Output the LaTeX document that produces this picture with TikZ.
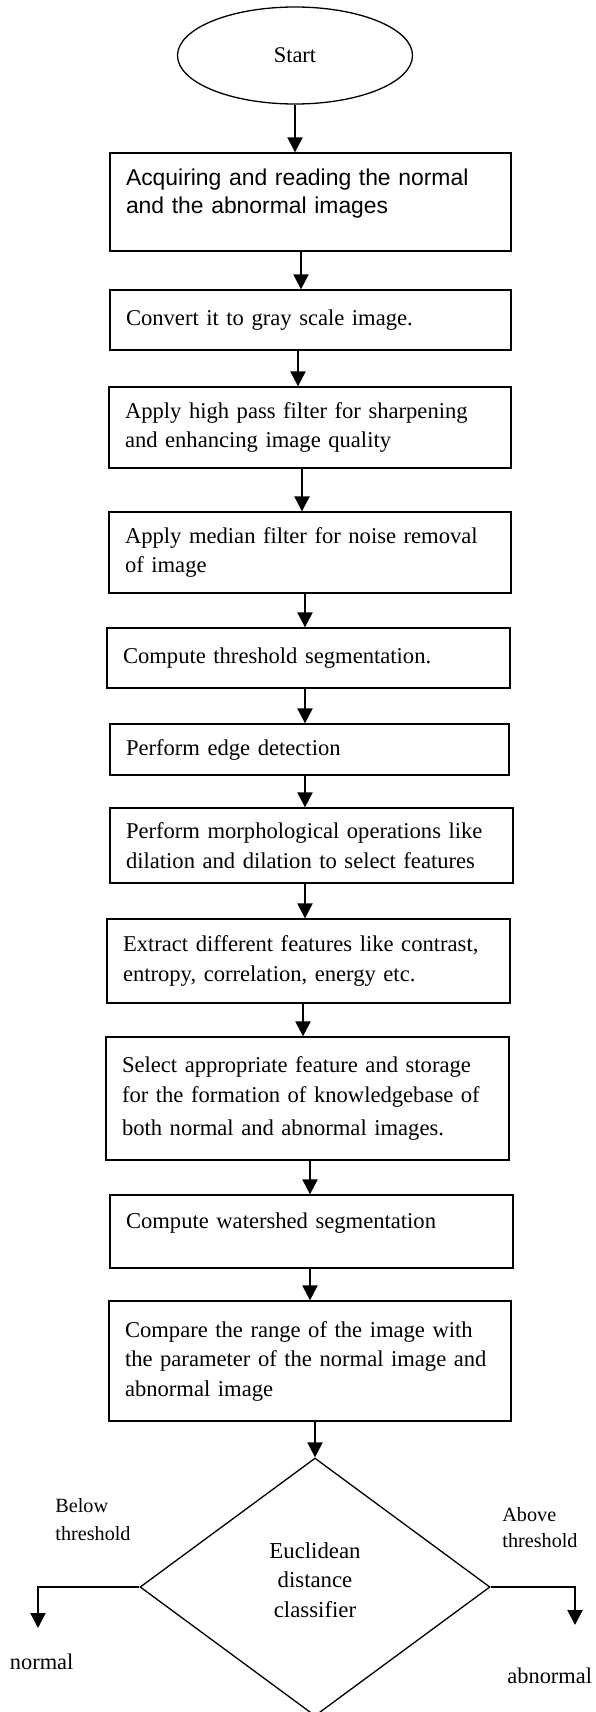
\documentclass[tikz,border=0pt]{standalone}
\usepackage{fontspec}
\setmainfont{Liberation Serif}
\newfontfamily\arialfont{Liberation Sans}
\usetikzlibrary{shapes.geometric,arrows.meta}
\tikzset{
  procbox/.style={draw,line width=0.65pt,rectangle,align=left,inner xsep=8pt,inner ysep=0pt,
    font=\fontsize{11.3pt}{14.75pt}\selectfont},
  terminal/.style={draw,line width=0.65pt,ellipse,inner sep=0pt,font=\fontsize{11.2pt}{14pt}\selectfont},
  decision/.style={draw,line width=0.65pt,diamond,inner sep=0pt,align=center,
    font=\fontsize{11.4pt}{14.75pt}\selectfont},
  flowarrow/.style={line width=1.1pt,-{Triangle[width=7.5pt,length=7.5pt]}},
  lbl/.style={align=left,inner sep=0pt,anchor=west}
}

\begin{document}
\begin{tikzpicture}[x=0.5pt,y=-0.5pt]
\path[use as bounding box] (0,0) rectangle (595,1712);
\node[terminal,minimum width=117.5pt,minimum height=48.5pt] (start) at (295,55.5) {Start};
\node[procbox,text width=184.5pt,minimum height=49pt,font=\arialfont\fontsize{11.45pt}{14pt}\selectfont] (acquire) at (310.5,202)
  {Acquiring and reading the normal\\and the abnormal images\rule[-10.4pt]{0pt}{10.4pt}};
\node[procbox,text width=184.5pt,minimum height=30pt] (gray) at (310.5,320) {Convert it to gray scale image.};
\node[procbox,text width=185pt,minimum height=40.5pt] (highpass) at (310,427.5)
  {Apply high pass filter for sharpening\\and enhancing image quality};
\node[procbox,text width=185pt,minimum height=40.5pt] (median) at (310,552.5)
  {Apply median filter for noise removal\\of image};
\node[procbox,text width=185.5pt,minimum height=30pt] (thresh) at (308.5,658) {Compute threshold segmentation.};
\node[procbox,text width=183.5pt,minimum height=25.5pt] (edge) at (309.5,749.5) {Perform edge detection};
\node[procbox,text width=185.5pt,minimum height=37.5pt] (morph) at (311.5,845.5)
  {Perform morphological operations like\\dilation and dilation to select features};
\node[procbox,text width=185.5pt,minimum height=42pt] (extract) at (308.5,961)
  {Extract different features like contrast,\\entropy, correlation, energy etc.};
\node[procbox,text width=185.5pt,minimum height=61.5pt] (select) at (307.5,1098.5)
  {Select appropriate feature and storage\\for the formation of knowledgebase of\\[2pt]both normal and abnormal images.};
\node[procbox,text width=185.5pt,minimum height=36.5pt] (watershed) at (311.5,1231.5)
  {Compute watershed segmentation\rule[-11.2pt]{0pt}{11.2pt}};
\node[procbox,text width=185pt,minimum height=60pt] (compare) at (310,1361)
  {Compare the range of the image with\\the parameter of the normal image and\\abnormal image};
\node[decision,minimum width=175pt,minimum height=129pt] (classifier) at (315,1587)
  {Euclidean\\distance\\classifier\rule[-7pt]{0pt}{7pt}};
\coordinate (normend) at (38,1628);
\coordinate (abnormend) at (575,1625);
\node[lbl,font=\fontsize{10.1pt}{14pt}\selectfont] (belowlbl) at (55,1519.6) {Below\\threshold};
\node[lbl,font=\fontsize{10.1pt}{13pt}\selectfont] (abovelbl) at (502,1527.5) {Above\\threshold};
\node[lbl,font=\fontsize{11.2pt}{14pt}\selectfont] (normallbl) at (9.5,1662.3) {normal};
\node[lbl,font=\fontsize{11.2pt}{14pt}\selectfont] (abnormallbl) at (507,1675.5) {abnormal};
\draw[flowarrow] (start.south) -- (start.south |- acquire.north);
\draw[flowarrow] ([xshift=-4.75pt]acquire.south) -- ([xshift=-4.75pt]acquire.south |- gray.north);
\draw[flowarrow] ([xshift=-6.25pt]gray.south) -- ([xshift=-6.25pt]gray.south |- highpass.north);
\draw[flowarrow] ([xshift=-4pt]highpass.south) -- ([xshift=-4pt]highpass.south |- median.north);
\draw[flowarrow] ([xshift=-2.5pt]median.south) -- ([xshift=-2.5pt]median.south |- thresh.north);
\draw[flowarrow] ([xshift=-1.75pt]thresh.south) -- ([xshift=-1.75pt]thresh.south |- edge.north);
\draw[flowarrow] ([xshift=-2.25pt]edge.south) -- ([xshift=-2.25pt]edge.south |- morph.north);
\draw[flowarrow] ([xshift=-3.25pt]morph.south) -- ([xshift=-3.25pt]morph.south |- extract.north);
\draw[flowarrow] ([xshift=-2.75pt]extract.south) -- ([xshift=-2.75pt]extract.south |- select.north);
\draw[flowarrow] ([xshift=1.25pt]select.south) -- ([xshift=1.25pt]select.south |- watershed.north);
\draw[flowarrow] ([xshift=-0.75pt]watershed.south) -- ([xshift=-0.75pt]watershed.south |- compare.north);
\draw[flowarrow] (compare.south -| classifier.north) -- (classifier.north);
\draw[flowarrow] (classifier.west) -| (normend);
\draw[flowarrow] (classifier.east) -| (abnormend);
\end{tikzpicture}
\end{document}
